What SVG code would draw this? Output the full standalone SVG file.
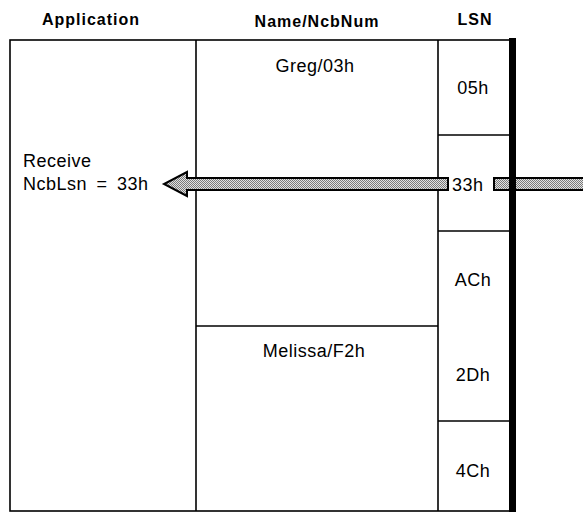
<svg xmlns="http://www.w3.org/2000/svg" width="583" height="513" viewBox="0 0 583 513">
  <defs>
    <pattern id="stipple" width="2" height="2" patternUnits="userSpaceOnUse">
      <rect width="2" height="2" fill="#e2e2e2"/>
      <rect width="1" height="1" fill="#7a7a7a"/>
      <rect x="1" y="1" width="1" height="1" fill="#7a7a7a"/>
    </pattern>
    <style>
      .hdr { font-family: "Liberation Sans", Arial, sans-serif; font-weight: bold; font-size: 16px; letter-spacing: 1px; fill: #000; text-anchor: middle; }
      .lbl { font-family: "Liberation Sans", Arial, sans-serif; font-size: 18px; letter-spacing: 0.5px; fill: #000; }
      .mid { text-anchor: middle; }
      .line { stroke: #000; stroke-width: 1.6; fill: none; }
      .shaft { fill: url(#stipple); stroke: #000; stroke-width: 2; }
    </style>
  </defs>
  <rect width="583" height="513" fill="#fff"/>

  <!-- column headings -->
  <g id="headers">
    <text class="hdr" x="91" y="25">Application</text>
    <text class="hdr" x="317" y="27">Name/NcbNum</text>
    <text class="hdr" x="475" y="25">LSN</text>
  </g>

  <!-- table frame -->
  <g id="frame">
    <rect class="line" x="10" y="40" width="502" height="471"/>
    <line class="line" x1="196" y1="40" x2="196" y2="511"/>
    <line class="line" x1="438" y1="40" x2="438" y2="511"/>
    <line class="line" x1="196" y1="326" x2="438" y2="326"/>
  </g>

  <!-- LSN cells -->
  <g id="lsn-cells">
    <line class="line" x1="438" y1="135" x2="512" y2="135"/>
    <line class="line" x1="438" y1="231" x2="512" y2="231"/>
    <line class="line" x1="438" y1="421" x2="512" y2="421"/>
    <text class="lbl mid" x="473" y="94">05h</text>
    <text class="lbl mid" x="473" y="286">ACh</text>
    <text class="lbl mid" x="473" y="381">2Dh</text>
    <text class="lbl mid" x="473" y="477">4Ch</text>
  </g>

  <!-- names -->
  <g id="name-greg">
    <text class="lbl mid" x="315" y="72">Greg/03h</text>
  </g>
  <g id="name-melissa">
    <text class="lbl mid" x="314" y="357">Melissa/F2h</text>
  </g>

  <!-- application side -->
  <g id="app-receive">
    <text class="lbl" x="23" y="167">Receive</text>
    <text class="lbl" x="23" y="190" word-spacing="4">NcbLsn = 33h</text>
  </g>

  <!-- incoming session arrow -->
  <g id="connectors">
    <rect class="shaft" x="494" y="178" width="95" height="12"/>
    <path class="shaft" d="M448,178 H187 V172 L164,184 L187,196 V190 H448 Z"/>
    <text class="lbl" x="452" y="191">33h</text>
  </g>

  <!-- heavy right edge of the LSN column -->
  <rect id="edge" x="509" y="38" width="7" height="474" fill="#000"/>
</svg>
